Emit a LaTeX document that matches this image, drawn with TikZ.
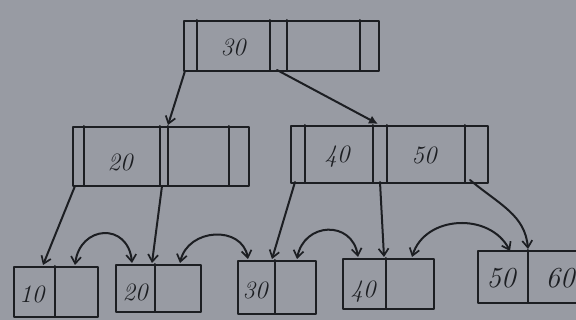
\documentclass[tikz,border=0pt]{standalone}
\usetikzlibrary{arrows.meta}
\definecolor{paper}{RGB}{152,155,163}
\definecolor{ink}{RGB}{28,30,34}
\begin{document}
\begin{tikzpicture}[x=1pt,y=-1pt,
  ink line/.style={draw=ink,line width=2pt,line join=round,line cap=round},
  boxnode/.style={ink line,rectangle,inner sep=0pt,anchor=north west},
  key/.style={text=ink,font=\fontsize{25}{27}\selectfont\itshape,inner sep=0pt},
  bigkey/.style={key,font=\fontsize{29}{31}\selectfont\itshape},
  ptr/.style={ink line,-{Straight Barb[length=7pt,width=10pt,line width=1.7pt]}},
  bold ptr/.style={ink line,-{Latex[length=9pt,width=9pt]}},
  sib/.style={ink line,{Straight Barb[length=7pt,width=10pt,line width=1.7pt]}-{Straight Barb[length=7pt,width=10pt,line width=1.7pt]}}]
\fill[paper] (0,0) rectangle (576,320);
\useasboundingbox (0,0) rectangle (576,320);
\clip (0,0) rectangle (576,320);
% root
\node[boxnode,minimum width=195pt,minimum height=50pt] (root) at (183,20) {};
\foreach \x in {197,270,287,360} \draw[ink line] (\x,20) -- (\x,70);
\node[key] (k30) at (233,47) {30};
% level 2
\node[boxnode,minimum width=176pt,minimum height=59pt] (nl) at (72,126) {};
\foreach \x in {84,160,168,229} \draw[ink line] (\x,126) -- (\x,185);
\node[key] (k20) at (120,162) {20};
\node[boxnode,minimum width=197pt,minimum height=57pt] (nr) at (290,125) {};
\foreach \x in {305,373,387,465} \draw[ink line] (\x,125) -- (\x,182);
\node[key] (k40) at (337,157) {40};
\node[key] (k50) at (424,155) {50};
% leaves
\node[boxnode,minimum width=84pt,minimum height=50pt] (l1) at (13,266) {};
\draw[ink line] (55,266) -- (55,316);
\node[key] (t10) at (32,294) {10};
\node[boxnode,minimum width=85pt,minimum height=47pt] (l2) at (115,264) {};
\draw[ink line] (155,264) -- (155,311);
\node[key] (t20) at (135,292) {20};
\node[boxnode,minimum width=78pt,minimum height=53pt] (l3) at (237,260) {};
\draw[ink line] (275,260) -- (275,313);
\node[key] (t30) at (255,290) {30};
\node[boxnode,minimum width=91pt,minimum height=50pt] (l4) at (342,258) {};
\draw[ink line] (386,258) -- (386,308);
\node[key] (t40) at (363,292) {40};
\node[boxnode,minimum width=113pt,minimum height=52pt] (l5) at (477,250) {};
\draw[ink line] (528,250) -- (528,302);
\node[bigkey] (t50) at (501,278) {50};
\node[bigkey] (t60) at (560,278) {60};
% coordinates
\coordinate (a1s) at (185,71);  \coordinate (a1e) at (168,125);
\coordinate (a2s) at (277,70);  \coordinate (a2e) at (378,124);
\coordinate (a3s) at (75,186);  \coordinate (a3e) at (43,265);
\coordinate (a4s) at (162,186); \coordinate (a4e) at (152,263);
\coordinate (a5s) at (295,182); \coordinate (a5e) at (272,259);
\coordinate (a6s) at (380,182); \coordinate (a6e) at (384,257);
\coordinate (a7s) at (470,180); \coordinate (a7e) at (528,249);
% parent pointers
\draw[ptr] (a1s) -- (a1e);
\draw[bold ptr] (a2s) -- (a2e);
\draw[ptr] (a3s) -- (a3e);
\draw[ptr] (a4s) -- (a4e);
\draw[ptr] (a5s) -- (a5e);
\draw[ptr] (a6s) -- (a6e);
\draw[ptr] (a7s) .. controls (500,205) and (525,215) .. (a7e);
% sibling links
\coordinate (s1a) at (75,265);  \coordinate (s1b) at (132,263);
\coordinate (s2a) at (180,263); \coordinate (s2b) at (248,259);
\coordinate (s3a) at (297,259); \coordinate (s3b) at (358,257);
\coordinate (s4a) at (412,257); \coordinate (s4b) at (510,251);
\draw[sib] (s1a) .. controls (80,225) and (128,222) .. (s1b);
\draw[sib] (s2a) .. controls (188,228) and (242,225) .. (s2b);
\draw[sib] (s3a) .. controls (304,222) and (352,220) .. (s3b);
\draw[sib] (s4a) .. controls (425,215) and (490,212) .. (s4b);
\end{tikzpicture}
\end{document}
